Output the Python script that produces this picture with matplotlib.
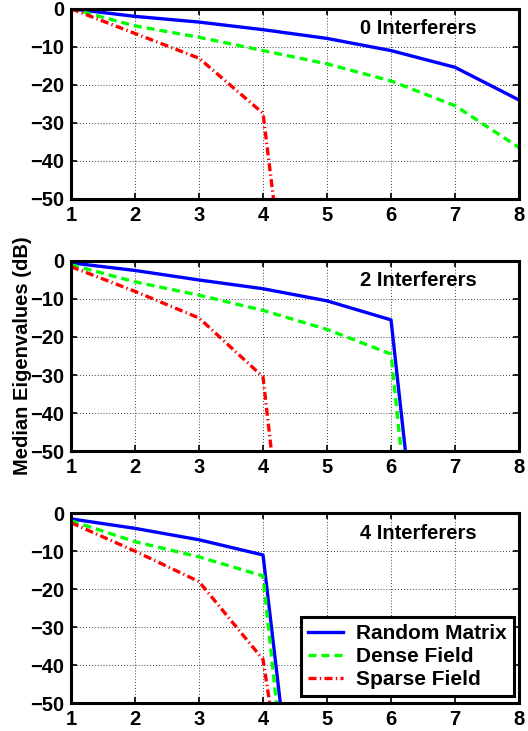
import numpy as np
import matplotlib
matplotlib.use("Agg")
import matplotlib.pyplot as plt

plt.rcParams['font.family'] = ['Liberation Sans', 'DejaVu Sans']
plt.rcParams['font.weight'] = 'bold'
plt.rcParams['axes.unicode_minus'] = True

# eigenvalue index
x = [1, 2, 3, 4, 5, 6, 7, 8]

# median eigenvalues (dB), values below -50 run off the axes
random_0 = [0, -2, -3.5, -5.5, -7.8, -11, -15.4, -24]
dense_0 = [0, -4.5, -7.5, -11, -14.5, -19, -25.5, -36.5]
sparse_0 = [0, -6.5, -13, -27.5, -165, -200, -200, -200]

random_2 = [-0.5, -2.5, -5, -7.3, -10.5, -15.5, -169, -200]
dense_2 = [-1, -5.5, -9, -13, -18, -24.5, -187, -200]
sparse_2 = [-1.5, -8, -15, -30.5, -180, -200, -200, -200]

random_4 = [-1.5, -4, -7, -11, -155, -200, -200, -200]
dense_4 = [-2, -7.5, -11.5, -16.5, -176, -200, -200, -200]
sparse_4 = [-2.5, -10, -18, -38.5, -148, -200, -200, -200]

panels = [
    ("0 Interferers", random_0, dense_0, sparse_0),
    ("2 Interferers", random_2, dense_2, sparse_2),
    ("4 Interferers", random_4, dense_4, sparse_4),
]

fs = 14.5

fig = plt.figure(figsize=(5.28, 7.31), dpi=100)

left = 0.1345
width = 0.983 - 0.1345
bottoms = [0.728, 0.383, 0.038]
height = 0.26

axes = []
for (title, r, d, s), b in zip(panels, bottoms):
    ax = fig.add_axes([left, b, width, height])
    ax.plot(x, r, color=(0, 0, 1), linestyle='-', linewidth=2.4, label='Random Matrix')
    ax.plot(x, d, color=(0, 1, 0), linestyle=(0, (2.4, 1.5)), linewidth=2.4, label='Dense Field')
    ax.plot(x, s, color=(1, 0, 0), linestyle=(0, (2.4, 1.0, 0.4, 1.0)), linewidth=2.4, label='Sparse Field')
    ax.set_xlim(1, 8)
    ax.set_ylim(-50, 0)
    ax.set_xticks(x)
    ax.set_yticks([0, -10, -20, -30, -40, -50])
    ax.grid(True, color='black', linestyle=(0, (1, 2.5)), linewidth=0.6)
    ax.tick_params(direction='in', length=4, width=1.2, labelsize=fs,
                   top=True, right=True, pad=5)
    for sp in ax.spines.values():
        sp.set_linewidth(2.2)
    ax.text(0.775, 0.895, title, transform=ax.transAxes, ha='center', va='center',
            fontsize=fs, fontweight='bold')
    axes.append(ax)

axes[1].set_ylabel("Median Eigenvalues (dB)", fontsize=fs, fontweight='bold')
axes[1].yaxis.set_label_coords(-0.088, 0.5)

leg = axes[2].legend(loc='lower right', bbox_to_anchor=(0.988, 0.037), fontsize=15,
                     fancybox=False, framealpha=1, edgecolor='black',
                     borderaxespad=0, handlelength=1.65, handletextpad=0.62,
                     borderpad=0.35, labelspacing=0.18)
leg.get_frame().set_linewidth(2.2)

fig.savefig("out.png", dpi=100)
